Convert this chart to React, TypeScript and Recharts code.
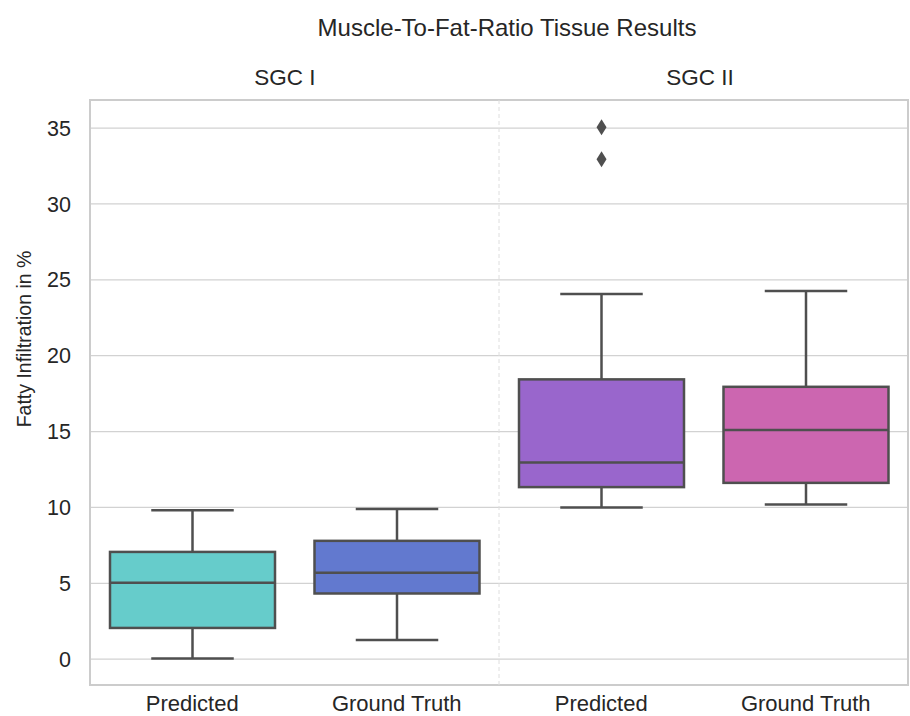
import { ComposedChart, Bar, XAxis, YAxis, CartesianGrid, ReferenceLine, ReferenceArea } from 'recharts'

const categories = ['sgc1-pred', 'sgc1-gt', 'sgc2-pred', 'sgc2-gt']
const tickLabels = ['Predicted', 'Ground Truth', 'Predicted', 'Ground Truth']
const whiskerLow = [0.05, 1.27, 10.0, 10.2]
const q1 = [2.06, 4.33, 11.34, 11.62]
const median = [5.03, 5.69, 12.97, 15.1]
const q3 = [7.07, 7.8, 18.44, 17.95]
const whiskerHigh = [9.82, 9.89, 24.06, 24.26]
const outliers: number[][] = [[], [], [32.94, 35.05], []]
const boxColors = ['#66cccb', '#6279cf', '#9966cc', '#cc66b0']
const yTicks = [0, 5, 10, 15, 20, 25, 30, 35]
const Y_MIN = -1.7
const Y_MAX = 36.85

const EDGE = '#4f4f4f'
const FONT = '"Liberation Sans", Arial, sans-serif'
const TEXT = '#262626'

const data = categories.map((key, i) => ({
  key,
  lo: whiskerLow[i],
  q1: q1[i],
  med: median[i],
  q3: q3[i],
  hi: whiskerHigh[i],
  outliers: outliers[i],
  color: boxColors[i],
}))

function BoxShape(props: any) {
  const { x, y, width, height, payload } = props
  const top = height >= 0 ? y : y + height
  const h = Math.abs(height)
  const perUnit = h / (payload.hi - payload.lo)
  const py = (v: number) => top + (payload.hi - v) * perUnit
  const cx = x + width / 2
  const cap = width / 4
  return (
    <g>
      <line x1={cx} x2={cx} y1={py(payload.hi)} y2={py(payload.q3)} stroke={EDGE} strokeWidth={2.5} />
      <line x1={cx} x2={cx} y1={py(payload.q1)} y2={py(payload.lo)} stroke={EDGE} strokeWidth={2.5} />
      <line x1={cx - cap} x2={cx + cap} y1={py(payload.hi)} y2={py(payload.hi)} stroke={EDGE} strokeWidth={2.5} />
      <line x1={cx - cap} x2={cx + cap} y1={py(payload.lo)} y2={py(payload.lo)} stroke={EDGE} strokeWidth={2.5} />
      <rect
        x={x}
        y={py(payload.q3)}
        width={width}
        height={py(payload.q1) - py(payload.q3)}
        fill={payload.color}
        stroke={EDGE}
        strokeWidth={2.5}
      />
      <line x1={x} x2={x + width} y1={py(payload.med)} y2={py(payload.med)} stroke={EDGE} strokeWidth={2.5} />
      {payload.outliers.map((v: number, i: number) => {
        const oy = py(v)
        return (
          <path
            key={i}
            d={`M${cx},${oy - 8} L${cx + 5},${oy} L${cx},${oy + 8} L${cx - 5},${oy} Z`}
            fill={EDGE}
          />
        )
      })}
    </g>
  )
}

export default function App() {
  return (
    <div style={{ position: 'absolute', left: 0, top: 0, width: 910, height: 716, background: '#fff', fontFamily: FONT }}>
      <ComposedChart
        width={910}
        height={716}
        data={data}
        margin={{ top: 100, right: 2, bottom: 0, left: 0 }}
        barCategoryGap="10%"
      >
        <CartesianGrid vertical={false} stroke="#d2d2d2" strokeWidth={1.3} />
        <ReferenceArea y1={Y_MIN} y2={Y_MAX} fill="none" stroke="#cccccc" strokeWidth={2} ifOverflow="visible" />
        <ReferenceLine x="sgc2-pred" position="start" stroke="#dedede" strokeDasharray="4 3" />
        <XAxis
          dataKey="key"
          height={31}
          tickLine={false}
          axisLine={false}
          tickSize={0}
          tickMargin={10}
          tickFormatter={(v: string) => tickLabels[categories.indexOf(v)]}
          tick={{ fontSize: 22, fill: TEXT, fontFamily: FONT }}
        />
        <YAxis
          type="number"
          width={90}
          domain={[Y_MIN, Y_MAX]}
          ticks={yTicks}
          tickLine={false}
          axisLine={false}
          tickSize={0}
          tickMargin={19}
          tick={{ fontSize: 21.5, fill: TEXT, fontFamily: FONT }}
        />
        <Bar
          dataKey={(d: any) => [d.lo, d.hi]}
          barSize={165}
          shape={BoxShape}
          isAnimationActive={false}
        />
      </ComposedChart>
      <div style={{ position: 'absolute', left: 0, width: 1014, top: 14, textAlign: 'center', fontSize: 24, color: TEXT }}>
        Muscle-To-Fat-Ratio Tissue Results
      </div>
      <div style={{ position: 'absolute', left: 185, width: 200, top: 65, textAlign: 'center', fontSize: 22.5, color: TEXT }}>
        SGC I
      </div>
      <div style={{ position: 'absolute', left: 600, width: 200, top: 65, textAlign: 'center', fontSize: 22.5, color: TEXT }}>
        SGC II
      </div>
      <div
        style={{
          position: 'absolute',
          left: 24,
          top: 339,
          transform: 'translate(-50%, -50%) rotate(-90deg)',
          whiteSpace: 'nowrap',
          fontSize: 19.5,
          color: TEXT,
        }}
      >
        Fatty Infiltration in %
      </div>
    </div>
  )
}
